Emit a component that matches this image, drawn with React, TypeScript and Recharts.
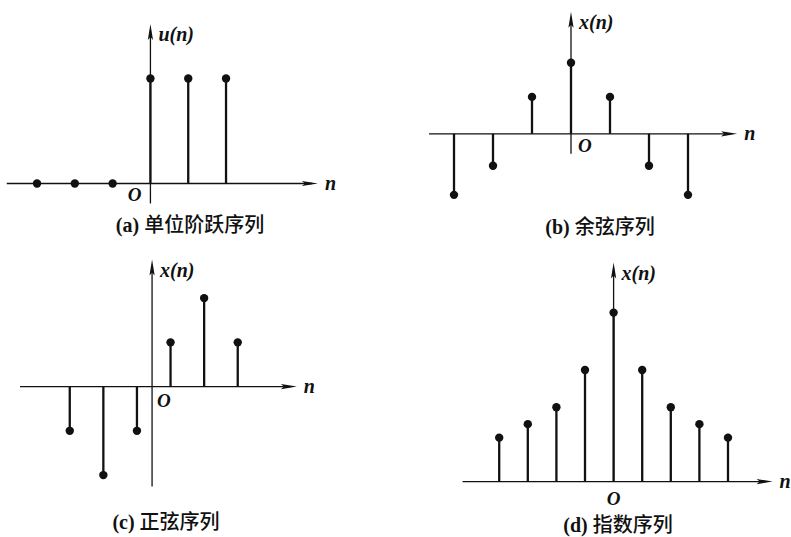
import React from 'react';
import { ComposedChart, XAxis, YAxis, Scatter, ReferenceLine, ReferenceDot } from 'recharts';

// ---- data ----
const STEP_N = [-3, -2, -1, 0, 1, 2];
const STEP_U = [0, 0, 0, 1, 1, 1];
const COS_N = [-3, -2, -1, 0, 1, 2, 3];
const COS_X = [-0.86, -0.45, 0.52, 1, 0.52, -0.45, -0.86];
const SIN_N = [-3, -2, -1, 0, 1, 2];
const SIN_X = [-0.5, -1, -0.5, 0.5, 1, 0.5];
const EXP_N = [-4, -3, -2, -1, 0, 1, 2, 3, 4];
const EXP_X = [0.26, 0.34, 0.44, 0.66, 1, 0.66, 0.44, 0.34, 0.26];
const Y_LABELS = ['u(n)', 'x(n)', 'x(n)', 'x(n)'];
const X_LABEL = 'n';
const ORIGIN_LABEL = 'O';
const CAPTION_TAGS = ['(a)', '(b)', '(c)', '(d)'];
const CAPTION_TEXTS = ['单位阶跃序列', '余弦序列', '正弦序列', '指数序列'];

const INK = '#111';
const SERIF = "'Liberation Serif', 'DejaVu Serif', serif";
const CJK = "'Noto Sans CJK SC', sans-serif";

type Panel = {
  left: number; top: number; width: number; height: number;
  xDomain: [number, number]; yDomain: [number, number];
  hAxis: [number, number]; vAxis: [number, number]; vAxisX: number;
  n: number[]; v: number[]; yLabel: string;
  oDx: number; oDy: number; oAnchor: 'start' | 'middle' | 'end';
};

const PANELS: Panel[] = [
  { left: 3, top: 5, width: 344, height: 210, xDomain: [-3.9, 5.2], yDomain: [-0.3, 1.7],
    hAxis: [-3.8, 4.43], vAxis: [-0.19, 1.52], vAxisX: 0, n: STEP_N, v: STEP_U, yLabel: Y_LABELS[0],
    oDx: -9, oDy: 17, oAnchor: 'end' },
  { left: 415, top: 6.2, width: 351, height: 205.9, xDomain: [-4, 5], yDomain: [-1.1, 1.8],
    hAxis: [-3.64, 4.26], vAxis: [-0.28, 1.72], vAxisX: 0, n: COS_N, v: COS_X, yLabel: Y_LABELS[1],
    oDx: 7, oDy: 18, oAnchor: 'start' },
  { left: 15.9, top: 245.4, width: 309.1, height: 256.65, xDomain: [-4.6, 4.6], yDomain: [-1.3, 1.6],
    hAxis: [-4.48, 3.76], vAxis: [-1.13, 1.435], vAxisX: -0.55, n: SIN_N, v: SIN_X, yLabel: Y_LABELS[2],
    oDx: 5, oDy: 20, oAnchor: 'start' },
  { left: 442.4, top: 245.4, width: 357.5, height: 270.4, xDomain: [-6, 6.5], yDomain: [-0.2, 1.4],
    hAxis: [-5.28, 5.56], vAxis: [0, 1.296], vAxisX: 0, n: EXP_N, v: EXP_X, yLabel: Y_LABELS[3],
    oDx: 0, oDy: 23, oAnchor: 'middle' },
];

const CAPTIONS = [
  { x: 190, y: 232 },
  { x: 600, y: 234 },
  { x: 166, y: 529 },
  { x: 618, y: 532 },
];

const labelStyle = { fontFamily: SERIF, fontStyle: 'italic' as const, fontWeight: 700, fontSize: 20, fill: INK };

const HArrow = (props: any) => {
  const { x1, y1, x2, y2 } = props;
  return (
    <g>
      <line x1={x1} y1={y1} x2={x2 - 6} y2={y2} stroke={INK} strokeWidth={1.3} />
      <polygon points={`${x2},${y2} ${x2 - 16},${y2 - 2.6} ${x2 - 13},${y2} ${x2 - 16},${y2 + 2.6}`} fill={INK} />
      <text x={x2 + 7} y={y2 + 6} style={labelStyle}>{X_LABEL}</text>
    </g>
  );
};

const makeVArrow = (label: string) => (props: any) => {
  const { x1, y1, x2, y2 } = props;
  const top = Math.min(y1, y2);
  const bot = Math.max(y1, y2);
  const x = x1;
  return (
    <g>
      <line x1={x} y1={bot} x2={x} y2={top + 6} stroke={INK} strokeWidth={1.3} />
      <polygon points={`${x},${top} ${x - 2.6},${top + 16} ${x},${top + 13} ${x + 2.6},${top + 16}`} fill={INK} />
      <text x={x + 8} y={top + 17} style={labelStyle}>{label}</text>
    </g>
  );
};

const Dot = (props: any) => <circle cx={props.cx} cy={props.cy} r={4.2} fill={INK} />;

function StemPanel({ p }: { p: Panel }) {
  const data = p.n.map((n, i) => ({ n, v: p.v[i] }));
  const OriginLabel = (props: any) => (
    <text x={props.cx + p.oDx} y={props.cy + p.oDy} textAnchor={p.oAnchor}
      style={{ ...labelStyle, fontSize: 19 }}>{ORIGIN_LABEL}</text>
  );
  return (
    <div style={{ position: 'absolute', left: p.left, top: p.top }}>
      <ComposedChart width={p.width} height={p.height} data={data}
        margin={{ top: 0, right: 0, bottom: 0, left: 0 }}>
        <XAxis type="number" dataKey="n" domain={p.xDomain} hide allowDataOverflow />
        <YAxis type="number" dataKey="v" domain={p.yDomain} hide allowDataOverflow />
        <ReferenceLine segment={[{ x: p.hAxis[0], y: 0 }, { x: p.hAxis[1], y: 0 }]} shape={HArrow} ifOverflow="visible" />
        <ReferenceLine segment={[{ x: p.vAxisX, y: p.vAxis[0] }, { x: p.vAxisX, y: p.vAxis[1] }]}
          shape={makeVArrow(p.yLabel)} ifOverflow="visible" />
        {data.map((d) => (
          <ReferenceLine key={d.n} segment={[{ x: d.n, y: 0 }, { x: d.n, y: d.v }]}
            stroke={INK} strokeWidth={2.3} ifOverflow="visible" />
        ))}
        <ReferenceDot x={p.vAxisX} y={0} shape={OriginLabel} ifOverflow="visible" />
        <Scatter data={data} dataKey="v" shape={Dot} isAnimationActive={false} />
      </ComposedChart>
    </div>
  );
}

export default function App() {
  return (
    <div style={{ position: 'absolute', left: 0, top: 0, width: 791, height: 537, overflow: 'hidden', background: '#fff' }}>
      {PANELS.map((p, i) => <StemPanel key={i} p={p} />)}
      <svg width={791} height={537} style={{ position: 'absolute', left: 0, top: 0, pointerEvents: 'none' }}>
        {CAPTIONS.map((c, i) => (
          <text key={i} x={c.x} y={c.y} textAnchor="middle" fill={INK}>
            <tspan style={{ fontFamily: SERIF, fontWeight: 700, fontSize: 20 }}>{CAPTION_TAGS[i]}</tspan>
            <tspan dx={5} style={{ fontFamily: CJK, fontWeight: 500, fontSize: 20 }}>{CAPTION_TEXTS[i]}</tspan>
          </text>
        ))}
      </svg>
    </div>
  );
}
